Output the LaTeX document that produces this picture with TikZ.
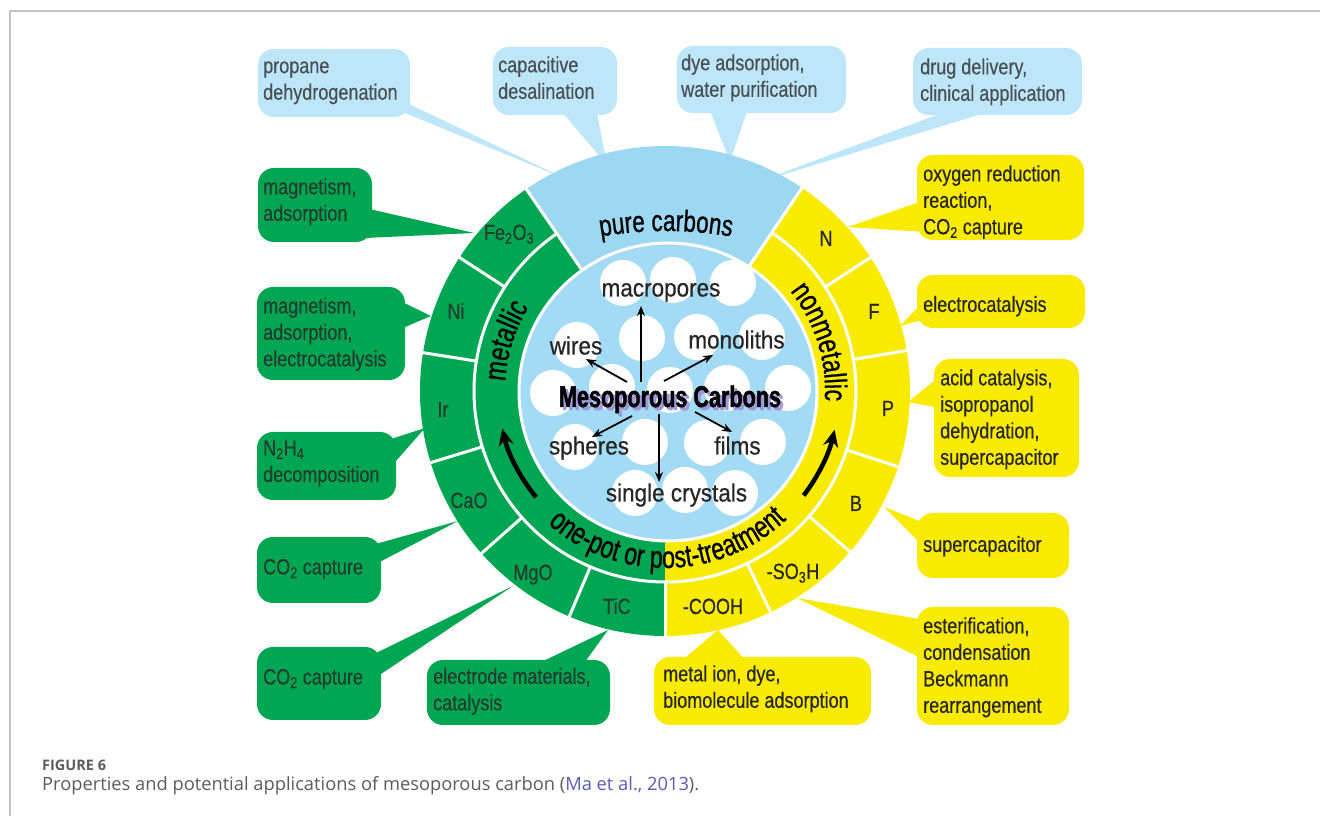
\documentclass[tikz,border=0pt]{standalone}
\usepackage{fontspec}
\setmainfont{Liberation Sans}
\newfontfamily\callfont{Liberation Sans}[FakeStretch=0.82,FakeBold=0.4]
\newfontfamily\arcfont{Liberation Sans}[FakeStretch=0.75,FakeBold=0.8]
\newfontfamily\porefont{Liberation Sans}[FakeStretch=0.9,FakeBold=0.6]
\newfontfamily\titlefont{Liberation Sans Bold}[FakeStretch=0.72,FakeBold=1.5]
\newfontfamily\capfont{Open Sans}
\usetikzlibrary{arrows.meta,decorations.text}

\definecolor{cgreen}{HTML}{00A651}
\definecolor{cyellow}{HTML}{F8EB00}
\definecolor{csector}{HTML}{9DD8F3}
\definecolor{cdisc}{HTML}{A3DBF4}
\definecolor{ccall}{HTML}{BDE6F8}
\definecolor{txtgray}{HTML}{4A4F55}
\definecolor{txtgreen}{HTML}{243D2E}
\definecolor{txtdark}{HTML}{262626}
\definecolor{shadowlav}{HTML}{A097D8}
\definecolor{framegray}{HTML}{C4C4C4}
\definecolor{capgray}{HTML}{5C5C5C}
\definecolor{caplink}{HTML}{5A5DB4}

\begin{document}
\begin{tikzpicture}[x=1pt,y=1pt,
  callbox/.style={rectangle, inner sep=0pt, outer sep=0pt, rounded corners=16pt, draw=none},
  calltext/.style={anchor=north west, inner sep=0pt, align=left,
    font=\callfont\fontsize{22}{26.5}\selectfont, execute at begin node=\strut},
  seglabel/.style={anchor=base, inner sep=0pt, font=\callfont\fontsize{22}{26}\selectfont},
  porelabel/.style={anchor=base, inner sep=0pt, font=\porefont\fontsize{25}{28}\selectfont, text=txtdark},
  whiteline/.style={white, line width=3pt},
  radial/.style={-{Stealth[length=10pt,width=8pt]}, line width=1.8pt, black},
  bandarrow/.style={-{Stealth[length=17pt,width=15pt]}, line width=4.5pt, black},
  arctext/.style={decorate, decoration={text along path, text align=center, text={#1}}}
]
% page and frame
\path[use as bounding box, fill=white] (0,0) rectangle (1320,816);
\draw[framegray, line width=1.5pt] (10,0) -- (10,805) -- (1320,805);

% ---------- callout tails ----------
\fill[ccall] (390,721) -- (405,703) -- (566,637) -- cycle;
\fill[ccall] (563,703) -- (597,703) -- (607,651) -- cycle;
\fill[ccall] (710,705) -- (747,705) -- (730,654) -- cycle;
\fill[ccall] (942,703) -- (985,703) -- (755,633) -- cycle;
\fill[cgreen] (365,608) -- (365,578) -- (474,583) -- cycle;
\fill[cgreen] (398,516) -- (398,486) -- (431,500) -- cycle;
\fill[cgreen] (388,376) -- (388,346) -- (425,388) -- cycle;
\fill[cgreen] (372,271) -- (372,250) -- (458,295) -- cycle;
\fill[cgreen] (372,161) -- (372,136) -- (513,230) -- cycle;
\fill[cgreen] (533,150) -- (582,150) -- (608,186) -- cycle;
\fill[cyellow] (925,616) -- (925,584) -- (848,589) -- cycle;
\fill[cyellow] (922,513) -- (922,496) -- (900,490) -- cycle;
\fill[cyellow] (940,440) -- (940,408) -- (908,414) -- cycle;
\fill[cyellow] (922,294) -- (922,271) -- (884,309) -- cycle;
\fill[cyellow] (925,196) -- (925,156) -- (797,218) -- cycle;
\fill[cyellow] (680,154) -- (747,154) -- (718,186) -- cycle;

% ---------- callout boxes ----------
\node[callbox, fill=ccall, minimum width=152pt, minimum height=68pt] (b1) at (334,733) {};
\node[callbox, fill=ccall, minimum width=124pt, minimum height=68pt] (b2) at (555,735) {};
\node[callbox, fill=ccall, minimum width=169pt, minimum height=67pt] (b3) at (761.5,736.5) {};
\node[callbox, fill=ccall, minimum width=169pt, minimum height=67pt] (b4) at (997.5,734.5) {};
\node[callbox, fill=cgreen, minimum width=114pt, minimum height=74pt] (g1) at (315,611) {};
\node[callbox, fill=cgreen, minimum width=148pt, minimum height=93pt] (g2) at (331,482.5) {};
\node[callbox, fill=cgreen, minimum width=139pt, minimum height=68pt] (g3) at (326.5,350) {};
\node[callbox, fill=cgreen, minimum width=124pt, minimum height=66pt] (g4) at (319,246) {};
\node[callbox, fill=cgreen, minimum width=124pt, minimum height=73pt] (g5) at (319,132.5) {};
\node[callbox, fill=cgreen, minimum width=183pt, minimum height=65pt] (g6) at (518.5,123.5) {};
\node[callbox, fill=cyellow, minimum width=167pt, minimum height=85pt] (y1) at (1000.5,618.5) {};
\node[callbox, fill=cyellow, minimum width=168pt, minimum height=53pt] (y2) at (1001,514.5) {};
\node[callbox, fill=cyellow, minimum width=145pt, minimum height=118pt] (y3) at (1006.5,398) {};
\node[callbox, fill=cyellow, minimum width=152pt, minimum height=65pt] (y4) at (993,270.5) {};
\node[callbox, fill=cyellow, minimum width=152pt, minimum height=118pt] (y5) at (993,150) {};
\node[callbox, fill=cyellow, minimum width=217pt, minimum height=68pt] (y6) at (762.5,125) {};

% ---------- callout texts ----------
\node[calltext, text=txtgray] (tb1) at (263,754.85) {propane\\dehydrogenation};
\node[calltext, text=txtgray] (tb2) at (498,759.85) {capacitive\\desalination};
\node[calltext, text=txtgray] (tb3) at (681,761.85) {dye adsorption,\\water purification};
\node[calltext, text=txtgray] (tb4) at (920,757.85) {drug delivery,\\clinical application};
\node[calltext, text=txtgreen] (tg1) at (263,637.85) {magnetism,\\adsorption};
\node[calltext, text=txtgreen] (tg2) at (263,518.85) {magnetism,\\adsorption,\\electrocatalysis};
\node[calltext, text=txtgreen] (tg3) at (263,375.85) {N\textsubscript{2}H\textsubscript{4}\\decomposition};
\node[calltext, text=txtgreen] (tg4) at (263,260.35) {CO\textsubscript{2} capture};
\node[calltext, text=txtgreen] (tg5) at (263,150.35) {CO\textsubscript{2} capture};
\node[calltext, text=txtgreen] (tg6) at (433,148.35) {electrode materials,\\catalysis};
\node[calltext, text=txtdark] (ty1) at (923,650.85) {oxygen reduction\\reaction,\\CO\textsubscript{2} capture};
\node[calltext, text=txtdark] (ty2) at (923,522.85) {electrocatalysis};
\node[calltext, text=txtdark] (ty3) at (940,446.85) {acid catalysis,\\isopropanol\\dehydration,\\supercapacitor};
\node[calltext, text=txtdark] (ty4) at (923,282.85) {supercapacitor};
\node[calltext, text=txtdark] (ty5) at (923,198.85) {esterification,\\condensation\\Beckmann\\rearrangement};
\node[calltext, text=txtdark] (ty6) at (663,150.85) {metal ion, dye,\\biomolecule adsorption};

% ---------- ring ----------
\coordinate (C) at (665,425);
\coordinate (D) at (668,424);
\fill[cgreen] (C) -- ([shift={(124.5:245)}]C) arc[start angle=124.5, end angle=270, radius=245] -- cycle;
\fill[cyellow] (C) -- ([shift={(-90:245)}]C) arc[start angle=-90, end angle=56, radius=245] -- cycle;
\fill[csector] (C) -- ([shift={(56:245)}]C) arc[start angle=56, end angle=124.5, radius=245] -- cycle;

% separating lines
\draw[whiteline] ([shift={(124.5:191)}]C) arc[start angle=124.5, end angle=416, radius=191];
\foreach \a in {124.5,56}
  \draw[whiteline] ([shift={(\a:140)}]C) -- ([shift={(\a:248)}]C);
\foreach \a in {147,171,197,221.5,247,270,33,9.5,-18,-41,-64.5}
  \draw[whiteline] ([shift={(\a:191)}]C) -- ([shift={(\a:248)}]C);

% central disc with pores
\fill[cdisc] (D) circle[radius=149];
\begin{scope}
  \clip (D) circle[radius=148];
  \foreach \px/\py in {623/533,673/536,733/533,
                       577/471,642/478,697/479,762/479,
                       553/423,612/429,670/426,727/428,788/428,
                       575/369,645/374,707/373,763/374,
                       635/323,685/326,735/323}
    \fill[white] (\px,\py) circle[radius=23];
\end{scope}
\draw[whiteline] (D) circle[radius=149];

% ---------- segment labels ----------
\node[seglabel, text=txtgreen] (fe) at (509,576) {Fe\textsubscript{2}O\textsubscript{3}};
\node[seglabel, text=txtgreen] (ni) at (456,497) {Ni};
\node[seglabel, text=txtgreen] (ir) at (443,399) {Ir};
\node[seglabel, text=txtgreen] (cao) at (469,308) {CaO};
\node[seglabel, text=txtgreen] (mgo) at (533,236) {MgO};
\node[seglabel, text=txtgreen] (tic) at (617,202) {TiC};
\node[seglabel, text=txtdark] (nn) at (826,570) {N};
\node[seglabel, text=txtdark] (ff) at (874,497) {F};
\node[seglabel, text=txtdark] (pp) at (888,400) {P};
\node[seglabel, text=txtdark] (bb) at (856,305) {B};
\node[seglabel, text=txtdark] (so) at (793,237) {-SO\textsubscript{3}H};
\node[seglabel, text=txtdark] (co) at (713,202) {-COOH};

% ---------- curved band texts ----------
\coordinate (PC) at (666,205);
\path[arctext={|\arcfont\fontsize{30}{30}\selectfont|pure carbons}]
  ([shift={(115:380)}]PC) arc[start angle=115, end angle=65, radius=380];
\path[arctext={|\arcfont\fontsize{31}{31}\selectfont|metallic}]
  ([shift={(200:160)}]C) arc[start angle=200, end angle=125, radius=160];
\path[arctext={|\arcfont\fontsize{31}{31}\selectfont|nonmetallic}]
  ([shift={(55:160)}]C) arc[start angle=55, end angle=-20, radius=160];
\path[arctext={|\arcfont\fontsize{31}{31}\selectfont|one-pot or post-treatment}]
  ([shift={(221:177)}]C) arc[start angle=221, end angle=321, radius=177];

% band arrows
\draw[bandarrow] ([shift={(219.5:167)}]C) arc[start angle=219.5, end angle=193, radius=167];
\coordinate (CR) at (667,425);
\draw[bandarrow] ([shift={(-37.4:172)}]CR) arc[start angle=-37.4, end angle=-13, radius=172];

% ---------- centre title and forms ----------
\node[anchor=base, inner sep=0pt, font=\titlefont\fontsize{30}{30}\selectfont, text=shadowlav] (shadow) at (673,406) {Mesoporous Carbons};
\node[anchor=base, inner sep=0pt, font=\titlefont\fontsize{30}{30}\selectfont, text=black] (title) at (670,409) {Mesoporous Carbons};

\node[porelabel] (macro) at (661,519.5) {macropores};
\node[porelabel] (mono) at (736.5,467.5) {monoliths};
\node[porelabel] (wires) at (576,461.5) {wires};
\node[porelabel] (spheres) at (589,361.5) {spheres};
\node[porelabel] (films) at (737.5,361.5) {films};
\node[porelabel] (single) at (676.5,314.5) {single crystals};

\coordinate (up0) at (641,434);  \coordinate (up1) at (641,510);
\coordinate (wi0) at (627,434);  \coordinate (wi1) at (586,457);
\coordinate (mo0) at (664,435);  \coordinate (mo1) at (713,461);
\coordinate (sp0) at (632,400);  \coordinate (sp1) at (592,379);
\coordinate (si0) at (659,402);  \coordinate (si1) at (659,334);
\coordinate (fi0) at (695,404);  \coordinate (fi1) at (732,384);
\draw[radial] (up0) -- (up1);
\draw[radial] (wi0) -- (wi1);
\draw[radial] (mo0) -- (mo1);
\draw[radial] (sp0) -- (sp1);
\draw[radial] (si0) -- (si1);
\draw[radial] (fi0) -- (fi1);

% ---------- caption ----------
\node[anchor=base west, inner sep=0pt, font=\capfont\fontsize{14.5}{17}\selectfont\bfseries, text=capgray] (fig) at (42,45) {FIGURE 6};
\node[anchor=base west, inner sep=0pt, font=\capfont\fontsize{18.3}{21}\selectfont, text=capgray] (cap) at (42,25)
  {Properties and potential applications of mesoporous carbon (\textcolor{caplink}{Ma et al., 2013}).};
\end{tikzpicture}
\end{document}
